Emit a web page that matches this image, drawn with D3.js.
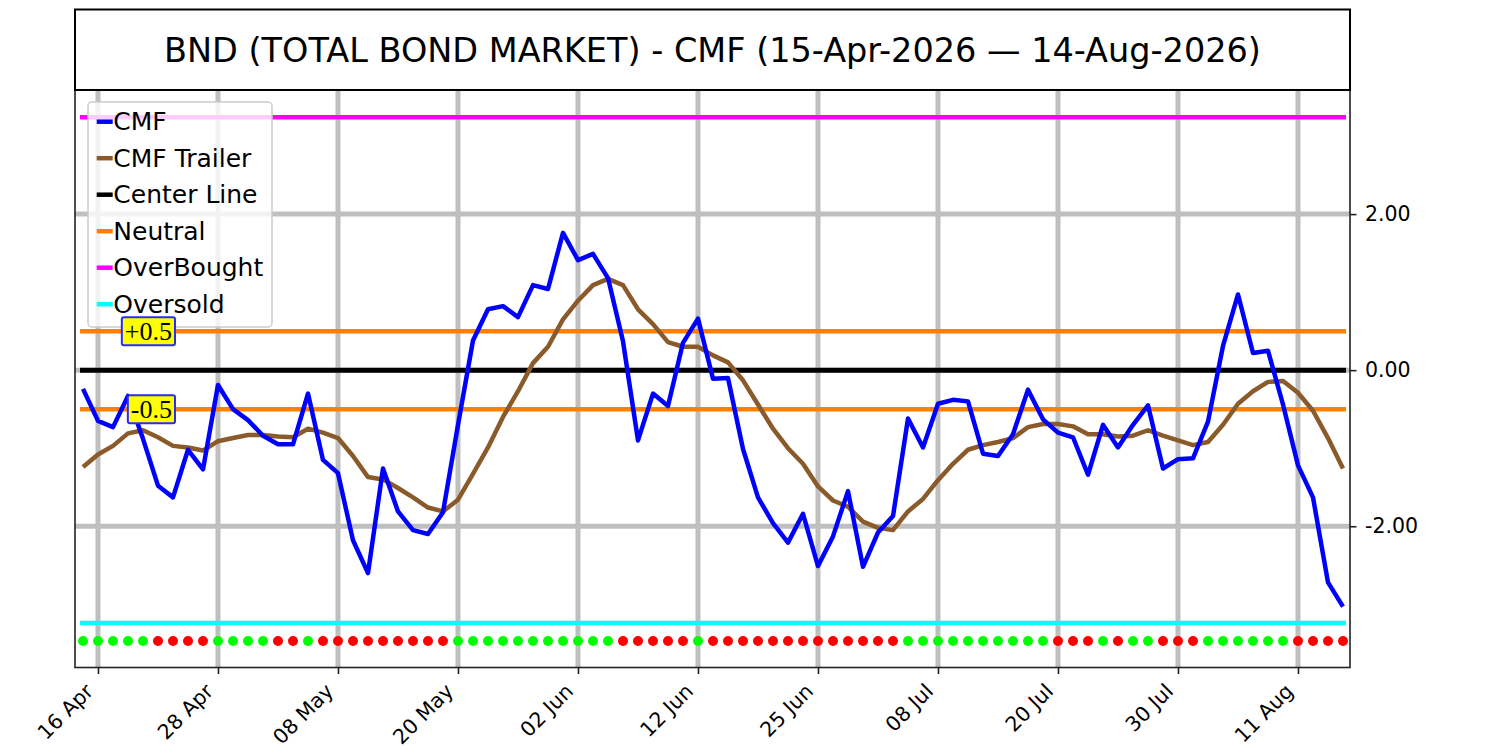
<!DOCTYPE html>
<html>
<head>
<meta charset="utf-8">
<script src="https://d3js.org/d3.v7.min.js"></script>
<style>
  body { margin: 0; background: #fff; }
  text { font-family: "DejaVu Sans", sans-serif; }
</style>
</head>
<body>
<script>
// Chart values, one entry per trading day from 15-Apr-2026 to 14-Aug-2026
var cmf = [
  -0.24, -0.65, -0.73, -0.33, -0.88, -1.48, -1.63, -1.02, -1.27, -0.19,
  -0.50, -0.64, -0.84, -0.95, -0.95, -0.30, -1.15, -1.32, -2.18, -2.60,
  -1.26, -1.81, -2.05, -2.10, -1.82, -0.70, 0.38, 0.78, 0.82, 0.68,
  1.09, 1.04, 1.76, 1.41, 1.49, 1.18, 0.37, -0.90, -0.30, -0.46,
  0.35, 0.66, -0.11, -0.10, -1.01, -1.63, -1.96, -2.21, -1.84, -2.51,
  -2.13, -1.55, -2.52, -2.08, -1.87, -0.62, -0.99, -0.43, -0.38, -0.40,
  -1.07, -1.10, -0.82, -0.25, -0.63, -0.80, -0.86, -1.34, -0.70, -0.99,
  -0.70, -0.45, -1.26, -1.14, -1.13, -0.66, 0.31, 0.97, 0.22, 0.25,
  -0.44, -1.22, -1.63, -2.72, -3.03
];
var trailer = [
  -1.24, -1.08, -0.97, -0.81, -0.77, -0.86, -0.97, -0.99, -1.03, -0.91,
  -0.87, -0.83, -0.83, -0.85, -0.86, -0.75, -0.80, -0.87, -1.10, -1.37,
  -1.40, -1.51, -1.63, -1.76, -1.81, -1.66, -1.33, -0.99, -0.60, -0.27,
  0.09, 0.30, 0.65, 0.89, 1.09, 1.17, 1.09, 0.78, 0.59, 0.36,
  0.30, 0.30, 0.19, 0.10, -0.13, -0.44, -0.75, -1.00, -1.20, -1.49,
  -1.67, -1.75, -1.94, -2.02, -2.05, -1.81, -1.65, -1.41, -1.20, -1.02,
  -0.96, -0.92, -0.87, -0.73, -0.69, -0.69, -0.72, -0.82, -0.82, -0.85,
  -0.84, -0.77, -0.84, -0.90, -0.96, -0.92, -0.70, -0.43, -0.27, -0.15,
  -0.14, -0.29, -0.52, -0.87, -1.26
];
// 1 = green dot, 0 = red dot
var signal = [
  1, 1, 1, 1, 1, 0, 0, 0, 0, 1,
  1, 1, 1, 0, 0, 1, 0, 0, 0, 0,
  0, 0, 0, 0, 0, 1, 1, 1, 1, 1,
  1, 1, 1, 1, 1, 1, 0, 0, 0, 0,
  0, 1, 0, 0, 0, 0, 0, 0, 0, 0,
  0, 0, 0, 0, 0, 1, 1, 1, 1, 1,
  1, 1, 1, 1, 1, 0, 0, 0, 1, 0,
  1, 1, 0, 0, 0, 1, 1, 1, 1, 1,
  1, 0, 0, 0, 0
];
var tickIndex = [1, 9, 17, 25, 33, 41, 49, 57, 65, 73, 81];
var tickLabels = ["16 Apr", "28 Apr", "08 May", "20 May", "02 Jun", "12 Jun",
                  "25 Jun", "08 Jul", "20 Jul", "30 Jul", "11 Aug"];
var yTicks = [-2, 0, 2];
var levels = { center: 0, neutral: 0.5, overBought: 3.24, overSold: -3.24, dots: -3.47 };
var titleText = "BND (TOTAL BOND MARKET) - CMF (15-Apr-2026 \u2014 14-Aug-2026)";

// Plot area (window.top is taken, so prefixed names)
var W = 1500, H = 750;
var plotL = 75, plotR = 1350, plotT = 90, plotB = 667.5;

var svg = d3.select("body").append("svg")
  .attr("width", W).attr("height", H);

var x = d3.scaleLinear().domain([-0.533, 84.467]).range([plotL, plotR]);
var y = d3.scaleLinear().domain([-3.81, 3.59]).range([plotB, plotT]);

svg.append("defs").append("clipPath").attr("id", "plotclip")
  .append("rect").attr("x", plotL).attr("y", plotT)
  .attr("width", plotR - plotL).attr("height", plotB - plotT);

// Grid
var grid = svg.append("g").attr("clip-path", "url(#plotclip)");
grid.selectAll("line.vg").data(tickIndex).enter().append("line")
  .attr("class", "vg")
  .attr("x1", function(d){ return x(d); }).attr("x2", function(d){ return x(d); })
  .attr("y1", plotT).attr("y2", plotB)
  .style("stroke", "#bfbfbf").style("stroke-width", 5);
grid.selectAll("line.hg").data(yTicks).enter().append("line")
  .attr("class", "hg")
  .attr("y1", function(d){ return y(d); }).attr("y2", function(d){ return y(d); })
  .attr("x1", plotL).attr("x2", plotR)
  .style("stroke", "#bfbfbf").style("stroke-width", 5);

// Horizontal reference lines
var hl = svg.append("g").attr("clip-path", "url(#plotclip)");
var hlines = [
  { v: levels.center, c: "#000000", w: 5 },
  { v: levels.neutral, c: "#ff8000", w: 4.5 },
  { v: -levels.neutral, c: "#ff8000", w: 4.5 },
  { v: levels.overBought, c: "#ff00ff", w: 4.5 },
  { v: levels.overSold, c: "#00ffff", w: 4.5 }
];
hl.selectAll("line").data(hlines).enter().append("line")
  .attr("x1", x(-0.2)).attr("x2", x(84.2))
  .attr("y1", function(d){ return y(d.v); }).attr("y2", function(d){ return y(d.v); })
  .style("stroke", function(d){ return d.c; })
  .style("stroke-width", function(d){ return d.w; });

// Series lines
var lineGen = d3.line()
  .x(function(d, i){ return x(i); })
  .y(function(d){ return y(d); });
var series = svg.append("g").attr("clip-path", "url(#plotclip)");
series.append("path").datum(trailer)
  .attr("d", lineGen)
  .style("fill", "none").style("stroke", "#8b5a2b")
  .style("stroke-width", 4.5).style("stroke-linejoin", "round");
series.append("path").datum(cmf)
  .attr("d", lineGen)
  .style("fill", "none").style("stroke", "#0000ff")
  .style("stroke-width", 4.5).style("stroke-linejoin", "round");

// Signal dots
series.selectAll("circle").data(signal).enter().append("circle")
  .attr("cx", function(d, i){ return x(i); })
  .attr("cy", y(levels.dots))
  .attr("r", 5)
  .style("fill", function(d){ return d ? "#00ff00" : "#ff0000"; });

// Axes
var xAxis = svg.append("g")
  .attr("transform", "translate(0," + plotB + ")")
  .call(d3.axisBottom(x).tickValues(tickIndex)
    .tickFormat(function(d, i){ return tickLabels[i]; })
    .tickSize(6.5).tickSizeOuter(0));
xAxis.select(".domain").remove();
xAxis.selectAll("line").style("stroke", "#222").style("stroke-width", 1.6);
xAxis.selectAll("text")
  .attr("x", 0).attr("y", 0).attr("dy", 0)
  .attr("transform", "translate(-4,25) rotate(-45)")
  .style("text-anchor", "end")
  .style("font-size", "20.5px")
  .style("font-family", "DejaVu Sans")
  .style("fill", "#000");

var yAxis = svg.append("g")
  .attr("transform", "translate(" + plotR + ",0)")
  .call(d3.axisRight(y).tickValues(yTicks)
    .tickFormat(function(d){ return d.toFixed(2); })
    .tickSize(6.5).tickPadding(8.5).tickSizeOuter(0));
yAxis.select(".domain").remove();
yAxis.selectAll("line").style("stroke", "#222").style("stroke-width", 1.6);
yAxis.selectAll("text")
  .style("font-size", "20.5px")
  .style("font-family", "DejaVu Sans")
  .style("fill", "#000");

// Frame
svg.append("rect")
  .attr("x", plotL).attr("y", plotT)
  .attr("width", plotR - plotL).attr("height", plotB - plotT)
  .style("fill", "none").style("stroke", "#222").style("stroke-width", 1.6);

// Title box
svg.append("rect")
  .attr("x", plotL).attr("y", 9.5)
  .attr("width", plotR - plotL).attr("height", plotT - 9.5)
  .style("fill", "none").style("stroke", "#000").style("stroke-width", 2);
svg.append("text")
  .attr("x", (plotL + plotR) / 2).attr("y", 50)
  .attr("text-anchor", "middle").attr("dominant-baseline", "central")
  .style("font-size", "33.5px").style("fill", "#000")
  .text(titleText);

// Legend
var legendItems = [
  { name: "CMF", c: "#0000ff" },
  { name: "CMF Trailer", c: "#8b5a2b" },
  { name: "Center Line", c: "#000000" },
  { name: "Neutral", c: "#ff8000" },
  { name: "OverBought", c: "#ff00ff" },
  { name: "Oversold", c: "#00ffff" }
];
var legend = svg.append("g");
legend.append("rect")
  .attr("x", 88).attr("y", 102).attr("width", 184).attr("height", 225)
  .attr("rx", 4).attr("ry", 4)
  .style("fill", "#fff").style("fill-opacity", 0.8)
  .style("stroke", "#cccccc").style("stroke-width", 1.5);
var rows = legend.selectAll("g.row").data(legendItems).enter().append("g")
  .attr("class", "row")
  .attr("transform", function(d, i){ return "translate(0," + (121.7 + i * 36.5) + ")"; });
rows.append("line")
  .attr("x1", 96.7).attr("x2", 112.7).attr("y1", 0).attr("y2", 0)
  .style("stroke", function(d){ return d.c; }).style("stroke-width", 4.5);
rows.append("text")
  .attr("x", 113.3).attr("y", 0).attr("dominant-baseline", "central")
  .style("font-size", "25px").style("fill", "#000")
  .text(function(d){ return d.name; });

// Neutral level labels
[levels.neutral, -levels.neutral].forEach(function(v){
  var g = svg.append("g");
  var t = g.append("text")
    .attr("x", 172).attr("y", y(v))
    .attr("text-anchor", "end").attr("dominant-baseline", "central")
    .style("font-family", "'Liberation Serif', serif")
    .style("font-size", "26px").style("fill", "#000")
    .text((v > 0 ? "+" : "-") + Math.abs(v));
  var b = t.node().getBBox();
  g.insert("rect", "text")
    .attr("x", b.x - 3).attr("y", y(v) - 14)
    .attr("width", b.width + 6).attr("height", 28)
    .attr("rx", 2).attr("ry", 2)
    .style("fill", "#ffff00").style("stroke", "#2b2bff").style("stroke-width", 2);
});
</script>
</body>
</html>
